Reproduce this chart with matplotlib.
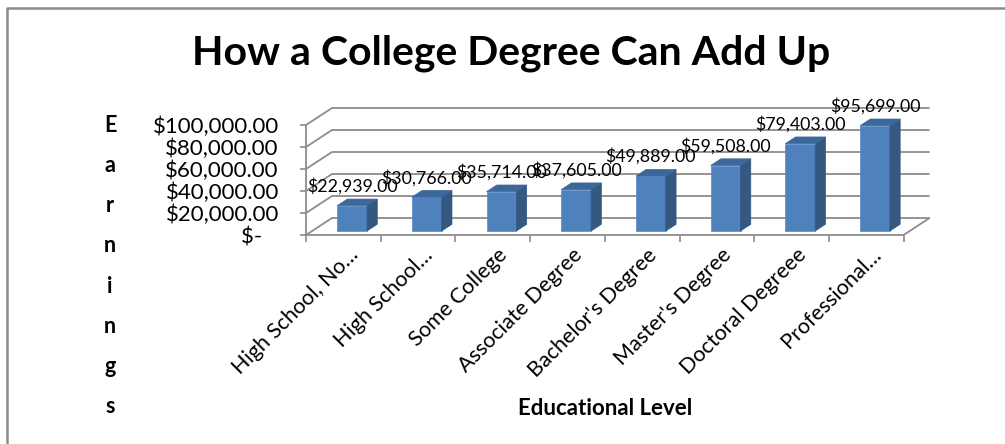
import matplotlib
matplotlib.use("Agg")
import matplotlib.pyplot as plt
import matplotlib.ticker as mticker
from matplotlib.patches import Polygon
from matplotlib.lines import Line2D

plt.rcParams['font.family'] = ['Lato', 'DejaVu Sans']

# ---------------------------------------------------------------------------
# Data
# ---------------------------------------------------------------------------
categories = ['High School, No\u2026', 'High School\u2026', 'Some College',
              'Associate Degree', "Bachelor's Degree", "Master's Degree",
              'Doctoral Degreee', 'Professional\u2026']
earnings = [22939, 30766, 35714, 37605, 49889, 59508, 79403, 95699]
y_ticks = [0, 20000, 40000, 60000, 80000, 100000]

# ---------------------------------------------------------------------------
# Oblique "3-D" geometry (data units)
# ---------------------------------------------------------------------------
DX = 0.348      # depth shift in category units
DY = 15450      # depth shift in value units
D0, D1 = 0.235, 0.63   # bar front / back depth
BW = 0.40              # bar width
BX = 0.335             # bar left offset inside category

FRONT = '#4F81BD'
TOP = '#3C679A'
SIDE = '#34587F'
GRID = '#8C8C8C'


def proj(x, v, d):
    return (x + d * DX, v + d * DY)


fig = plt.figure(figsize=(10.05, 4.44), dpi=100)
W, H = 1005, 444
ax_l, ax_w = 306, 8.35 * 74.7
ylo, yhi = 0, 118000
ax_b = H - 235
ax_h = (yhi - ylo) / 1000 * 1.1
ax = fig.add_axes([ax_l / W, ax_b / H, ax_w / W, ax_h / H])
ax.set_xlim(0, 8.35)
ax.set_ylim(ylo, yhi)

# walls: side-wall diagonals + back-wall gridlines
for v in y_ticks:
    x0, y0 = proj(0, v, 0)
    x1, y1 = proj(0, v, 1)
    x2, y2 = proj(len(categories), v, 1)
    ax.plot([x0, x1, x2], [y0, y1, y1], color=GRID, lw=1.3, zorder=1,
            solid_capstyle='butt')
# floor right edge
fx0, fy0 = proj(len(categories), 0, 0)
fx1, fy1 = proj(len(categories), 0, 1)
ax.plot([fx0, fx1], [fy0, fy1], color=GRID, lw=1.3, zorder=1)

# bars
for i, val in enumerate(earnings):
    xl, xr = i + BX, i + BX + BW
    front = [proj(xl, 0, D0), proj(xr, 0, D0), proj(xr, val, D0), proj(xl, val, D0)]
    side = [proj(xr, 0, D0), proj(xr, 0, D1), proj(xr, val, D1), proj(xr, val, D0)]
    top = [proj(xl, val, D0), proj(xr, val, D0), proj(xr, val, D1), proj(xl, val, D1)]
    ax.add_patch(Polygon(front, closed=True, facecolor=FRONT, edgecolor='#5A8AC6',
                         lw=0.5, zorder=3))
    ax.add_patch(Polygon(side, closed=True, facecolor=SIDE, edgecolor=SIDE,
                         lw=0.5, zorder=3))
    ax.add_patch(Polygon(top, closed=True, facecolor=TOP, edgecolor=TOP,
                         lw=0.5, zorder=3))
    cx, cy = proj((xl + xr) / 2, val, D0)
    ax.annotate(f'${val:,.2f}', xy=(cx, cy), xytext=(0, 14),
                textcoords='offset points', ha='center', va='center',
                fontsize=12.8, color='black', zorder=5)

# axes / spines
for s in ('top', 'right'):
    ax.spines[s].set_visible(False)
ax.spines['left'].set_bounds(0, 100000)
ax.spines['bottom'].set_bounds(0, len(categories))
for s in ('left', 'bottom'):
    ax.spines[s].set_color(GRID)
    ax.spines[s].set_linewidth(1.3)
ax.patch.set_alpha(0)

ax.set_yticks(y_ticks)
ax.yaxis.set_major_formatter(mticker.FuncFormatter(
    lambda v, p: '$-   ' if v == 0 else f'${v:,.2f}'))
ax.tick_params(axis='y', direction='out', length=4.5, width=1.2, color=GRID,
               pad=15, labelsize=16)

ax.set_xticks(range(len(categories) + 1))
ax.set_xticklabels([])
ax.set_xticks([i + 0.56 for i in range(len(categories))], minor=True)
ax.set_xticklabels(categories, minor=True, rotation=45, ha='right',
                   rotation_mode='anchor', fontsize=15.5)
ax.tick_params(axis='x', which='major', direction='out', length=5, width=1.2,
               color=GRID)
ax.tick_params(axis='x', which='minor', length=0, pad=7)

# texts
fig.text(511 / W, 1 - 53 / H, 'How a College Degree Can Add Up',
         ha='center', va='center', fontsize=29.5, fontweight='bold')
fig.text(110 / W, 1 - 266 / H, '\n'.join('Earnings'), ha='center', va='center',
         fontsize=15.5, fontweight='bold', linespacing=2.12)
fig.text(605 / W, 1 - 408 / H, 'Educational Level', ha='center', va='center',
         fontsize=16, fontweight='bold')

# chart-area border (left and top)
fig.add_artist(Line2D([6.5 / W, 6.5 / W, 1.0], [0.0, 1 - 8 / H, 1 - 8 / H],
                      transform=fig.transFigure, color='#8C8C8C', lw=1.8))

fig.savefig('out.png', dpi=100)
